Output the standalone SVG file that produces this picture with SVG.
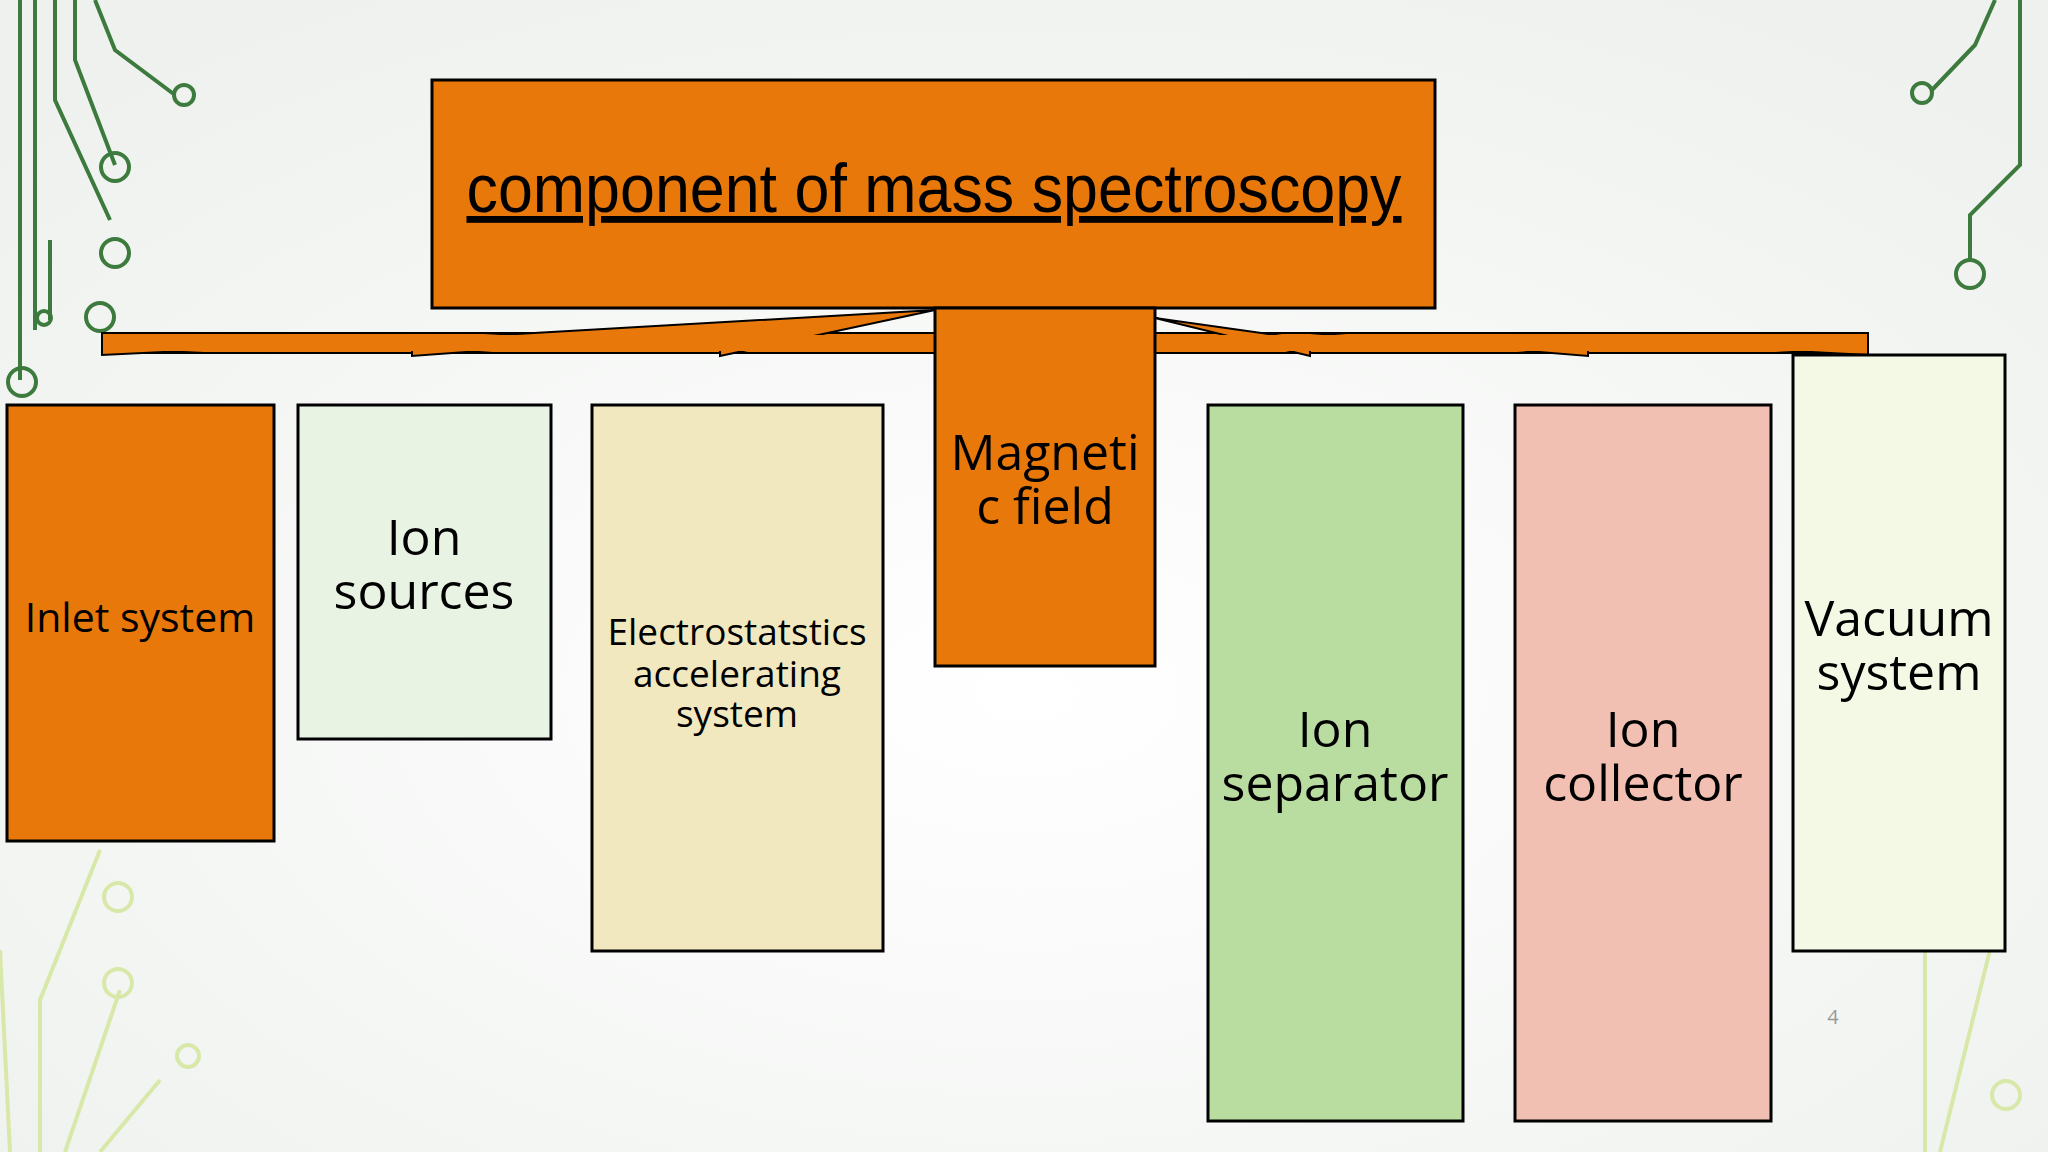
<svg xmlns="http://www.w3.org/2000/svg" width="2048" height="1152" viewBox="0 0 2048 1152">
<style>
.box{stroke:#000;stroke-width:3}
.t{font-family:"Open Sans","DejaVu Sans",sans-serif;fill:#000;text-anchor:middle;font-weight:500}
.dk{fill:none;stroke:#3d7a3d;stroke-width:4}
.lt{fill:none;stroke:#d8e8a8;stroke-width:4}
.bar{fill:#e8780a;stroke:#000;stroke-width:2}
</style>
<defs><radialGradient id="bg" cx="0.5" cy="0.6" r="0.7"><stop offset="0" stop-color="#ffffff"/><stop offset="1" stop-color="#eef1ee"/></radialGradient></defs>
<rect width="2048" height="1152" fill="url(#bg)"/>
<g id="decor">
<path class="dk" d="M20 0V380M35 0V330M55 0V100L110 220M75 0V60L115 165M95 0L115 50L175 95M50 240V320"/>
<circle class="dk" cx="184" cy="95" r="10"/><circle class="dk" cx="115" cy="167" r="14"/><circle class="dk" cx="115" cy="253" r="14"/><circle class="dk" cx="100" cy="317" r="14"/><circle class="dk" cx="22" cy="382" r="14"/><circle class="dk" cx="44" cy="318" r="7"/>
<path class="dk" d="M1995 0L1975 45L1932 90M2020 0V165L1970 215V262"/>
<circle class="dk" cx="1922" cy="93" r="10"/><circle class="dk" cx="1970" cy="274" r="14"/>
<path class="lt" d="M0 950L10 1152M40 1152V1000L100 850M65 1152L120 990M100 1152L160 1080M1925 950V1152M1990 950L1940 1152"/>
<circle class="lt" cx="118" cy="897" r="14"/><circle class="lt" cx="118" cy="983" r="14"/><circle class="lt" cx="188" cy="1056" r="11"/><circle class="lt" cx="2006" cy="1095" r="14"/>
</g>
<g id="connectors">
<rect class="bar" x="102" y="333" width="1766" height="20"/>
<polygon class="bar" points="102,333 102,355 412,340 412,356 718,333"/>
<polygon class="bar" points="412,340 720,337 720,356 935,310"/>
<polygon class="bar" points="1868,333 1868,355 1588,340 1588,356 1310,333"/>
<polygon class="bar" points="1310,340 1155,318 1310,356"/>
<rect x="104" y="335" width="1762" height="16" fill="#e8780a"/>
</g>
<g id="title"><rect class="box" x="432" y="80" width="1003" height="228" fill="#e8780a"/>
<text class="t" x="934" y="212" style="font-family:'Liberation Sans Narrow','Liberation Sans',sans-serif" font-size="68" text-decoration="underline" textLength="935" lengthAdjust="spacingAndGlyphs">component of mass spectroscopy</text></g>
<g id="magnetic"><rect class="box" x="935" y="308" width="220" height="358" fill="#e8780a"/>
<text class="t" font-size="50" x="1045" y="470">Magneti</text><text class="t" font-size="50" x="1045" y="524">c field</text></g>
<g id="inlet"><rect class="box" x="7" y="405" width="267" height="436" fill="#e8780a"/>
<text class="t" font-size="41" x="140" y="632">Inlet system</text></g>
<g id="ionsources"><rect class="box" x="298" y="405" width="253" height="334" fill="#e8f3e3"/>
<text class="t" font-size="50" x="424" y="555">Ion</text><text class="t" font-size="50" x="424" y="609">sources</text></g>
<g id="electro"><rect class="box" x="592" y="405" width="291" height="546" fill="#f2e8c0"/>
<text class="t" font-size="37" x="737" y="645">Electrostatstics</text><text class="t" font-size="37" x="737" y="687">accelerating</text><text class="t" font-size="37" x="737" y="727">system</text></g>
<g id="separator"><rect class="box" x="1208" y="405" width="255" height="716" fill="#b9dca0"/>
<text class="t" font-size="50" x="1335" y="747">Ion</text><text class="t" font-size="50" x="1335" y="801">separator</text></g>
<g id="collector"><rect class="box" x="1515" y="405" width="256" height="716" fill="#f2c0b2"/>
<text class="t" font-size="50" x="1643" y="747">Ion</text><text class="t" font-size="50" x="1643" y="801">collector</text></g>
<g id="vacuum"><rect class="box" x="1793" y="355" width="212" height="596" fill="#f4f9e6"/>
<text class="t" font-size="50" x="1899" y="636">Vacuum</text><text class="t" font-size="50" x="1899" y="690">system</text></g>
<text class="t" font-size="20" x="1833" y="1024" style="fill:#999">4</text>
</svg>
